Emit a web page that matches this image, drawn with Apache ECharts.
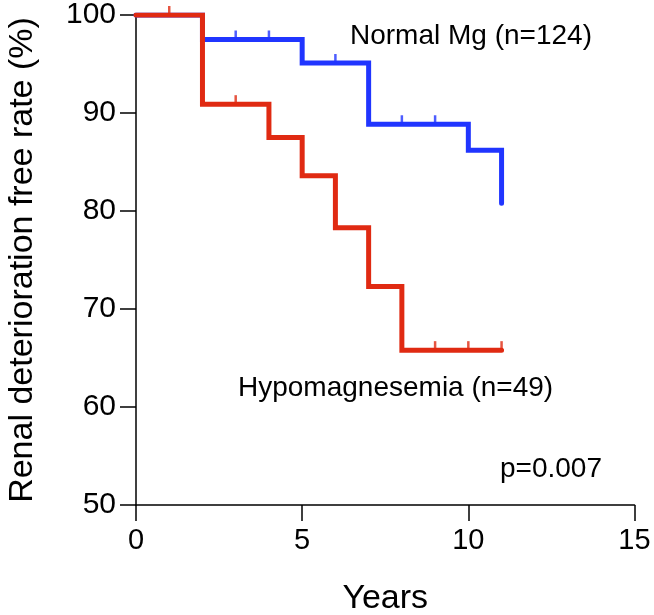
<!DOCTYPE html>
<html>
<head>
<meta charset="utf-8">
<script src="https://cdn.jsdelivr.net/npm/echarts@6/dist/echarts.min.js"></script>
<style>
  html, body { margin: 0; padding: 0; background: #fff; }
  #chart { width: 654px; height: 615px; }
</style>
</head>
<body>
<div id="chart"></div>
<script>
// Kaplan-Meier curves, renal deterioration free rate (%)
const normalYears = [0, 2, 5, 7, 10, 11];
const normalRate = [100, 97.5, 95.1, 88.85, 86.2, 80.8];
const normalCensorYears = [3, 4, 6, 8, 9];
const normalCensorRate = [97.5, 97.5, 95.1, 88.85, 88.85];

const hypoYears = [0, 2, 4, 5, 6, 7, 8, 11];
const hypoRate = [100, 90.9, 87.5, 83.6, 78.3, 72.3, 65.8, 65.8];
const hypoCensorYears = [1, 3, 9, 10, 11];
const hypoCensorRate = [100, 90.9, 65.8, 65.8, 65.8];

const xTicks = [0, 5, 10, 15];
const yTicks = [50, 60, 70, 80, 90, 100];

const BLUE = "#2035FF";
const RED = "#E02A12";
const FONT = "Liberation Sans";

const zip = (xs, ys) => xs.map((x, i) => [x, ys[i]]);

const chart = echarts.init(document.getElementById("chart"));

const axisCommon = {
  axisLine: { show: true, lineStyle: { color: "#000", width: 1.5 } },
  axisTick: { show: true, length: 16, lineStyle: { color: "#000", width: 1.5 } },
  splitLine: { show: false },
};

let option = {
  animation: false,
  backgroundColor: "#fff",
  grid: { left: 136, right: 19.5, top: 15, bottom: 110, outerBoundsMode: "none", containLabel: false },
  xAxis: {
    type: "value",
    min: xTicks[0],
    max: xTicks[xTicks.length - 1],
    interval: 5,
    ...axisCommon,
    axisLabel: { color: "#000", fontSize: 29, fontFamily: FONT, margin: 21 },
    name: "Years",
    nameLocation: "middle",
    nameGap: 77,
    nameTextStyle: { color: "#000", fontSize: 34, fontFamily: FONT },
  },
  yAxis: {
    type: "value",
    min: yTicks[0],
    max: yTicks[yTicks.length - 1],
    interval: 10,
    ...axisCommon,
    axisLabel: { color: "#000", fontSize: 30, fontFamily: FONT, margin: 20 },
    name: "Renal deterioration free rate (%)",
    nameLocation: "middle",
    nameGap: 96,
    nameTextStyle: { color: "#000", fontSize: 34, fontFamily: FONT },
  },
  series: [
    {
      name: "Normal Mg",
      type: "line",
      step: "end",
      data: zip(normalYears, normalRate),
      showSymbol: false,
      lineStyle: { color: BLUE, width: 5, cap: "round", join: "miter" },
      z: 2,
    },
    {
      type: "scatter",
      data: zip(normalCensorYears, normalCensorRate),
      symbol: "rect",
      symbolSize: [2.5, 9],
      symbolOffset: [0, -4.5],
      itemStyle: { color: BLUE },
      z: 2,
    },
    {
      name: "Hypomagnesemia",
      type: "line",
      step: "end",
      data: zip(hypoYears, hypoRate),
      showSymbol: false,
      lineStyle: { color: RED, width: 5, cap: "round", join: "miter" },
      z: 3,
    },
    {
      type: "scatter",
      data: zip(hypoCensorYears, hypoCensorRate),
      symbol: "rect",
      symbolSize: [2.5, 9],
      symbolOffset: [0, -4.5],
      itemStyle: { color: RED },
      z: 3,
    },
  ],
  graphic: [
    {
      type: "text",
      left: 350,
      top: 22,
      style: { text: "Normal Mg (n=124)", fill: "#000", fontSize: 28, fontFamily: FONT },
    },
    {
      type: "text",
      left: 238,
      top: 374,
      style: { text: "Hypomagnesemia (n=49)", fill: "#000", fontSize: 28, fontFamily: FONT },
    },
    {
      type: "text",
      left: 500,
      top: 455,
      style: { text: "p=0.007", fill: "#000", fontSize: 28, fontFamily: FONT },
    },
  ],
};

chart.setOption(option);
</script>
</body>
</html>
